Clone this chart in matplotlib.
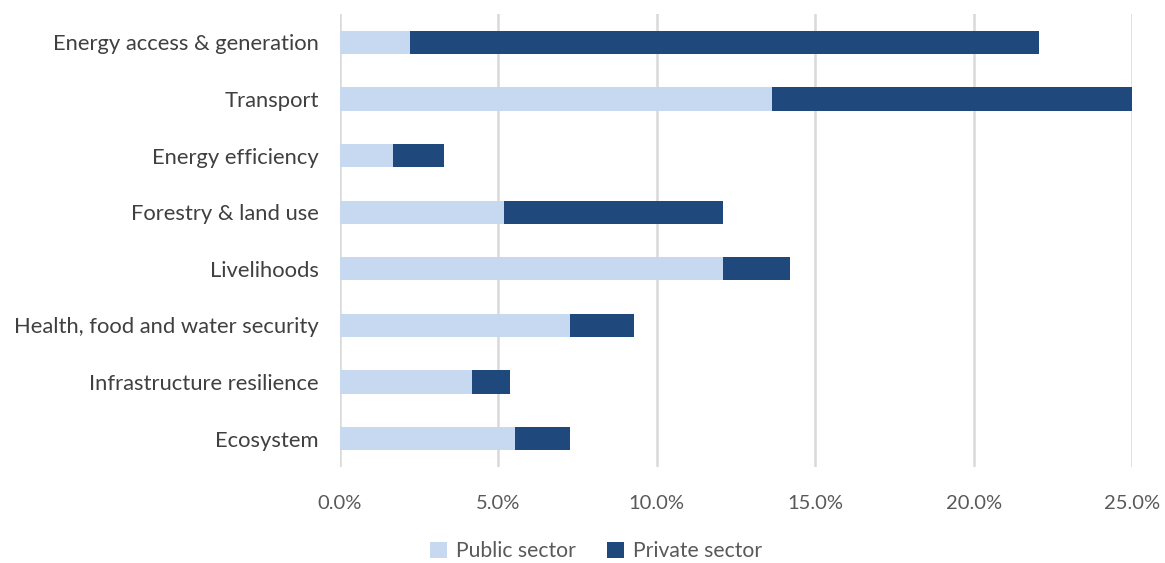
import numpy as np
import matplotlib.pyplot as plt

plt.rcParams['font.family'] = ['Lato', 'DejaVu Sans']

# categories, top to bottom
categories = ['Energy access & generation', 'Transport', 'Energy efficiency',
              'Forestry & land use', 'Livelihoods', 'Health, food and water security',
              'Infrastructure resilience', 'Ecosystem']
public = [2.20, 13.63, 1.67, 5.17, 12.10, 7.25, 4.16, 5.51]
private = [19.87, 11.42, 1.62, 6.93, 2.09, 2.02, 1.21, 1.74]
xticks = [0, 5, 10, 15, 20, 25]

fig = plt.figure(figsize=(11.65, 5.63), dpi=100)
ax = fig.add_axes([0.2918, 0.1705, 0.6799, 0.8045])

y = np.arange(len(categories))
h = 0.41
ax.barh(y, public, height=h, color='#c6d9f0', label='Public sector', zorder=3)
ax.barh(y, private, left=public, height=h, color='#1f497d', label='Private sector', zorder=3)

ax.set_ylim(len(categories) - 0.5, -0.5)
ax.set_xlim(0, 25)
ax.set_yticks(y)
ax.set_yticklabels(categories, fontsize=15.8, color='#404040')
ax.set_xticks(xticks)
ax.set_xticklabels(['%.1f%%' % t for t in xticks], fontsize=14.5, color='#595959')
ax.tick_params(axis='both', length=0)
ax.tick_params(axis='x', pad=20)
ax.tick_params(axis='y', pad=15)

ax.grid(axis='x', color='#d9d9d9', linewidth=1.8, zorder=0)
for s in ax.spines.values():
    s.set_visible(False)

fig.legend(loc='center', bbox_to_anchor=(596 / 1165, 1 - 551 / 563), ncol=2,
           frameon=False, fontsize=15.2, handlelength=0.8, handleheight=0.8,
           columnspacing=1.5, handletextpad=0.4, labelcolor='#595959')

fig.savefig('out.png', dpi=100)
